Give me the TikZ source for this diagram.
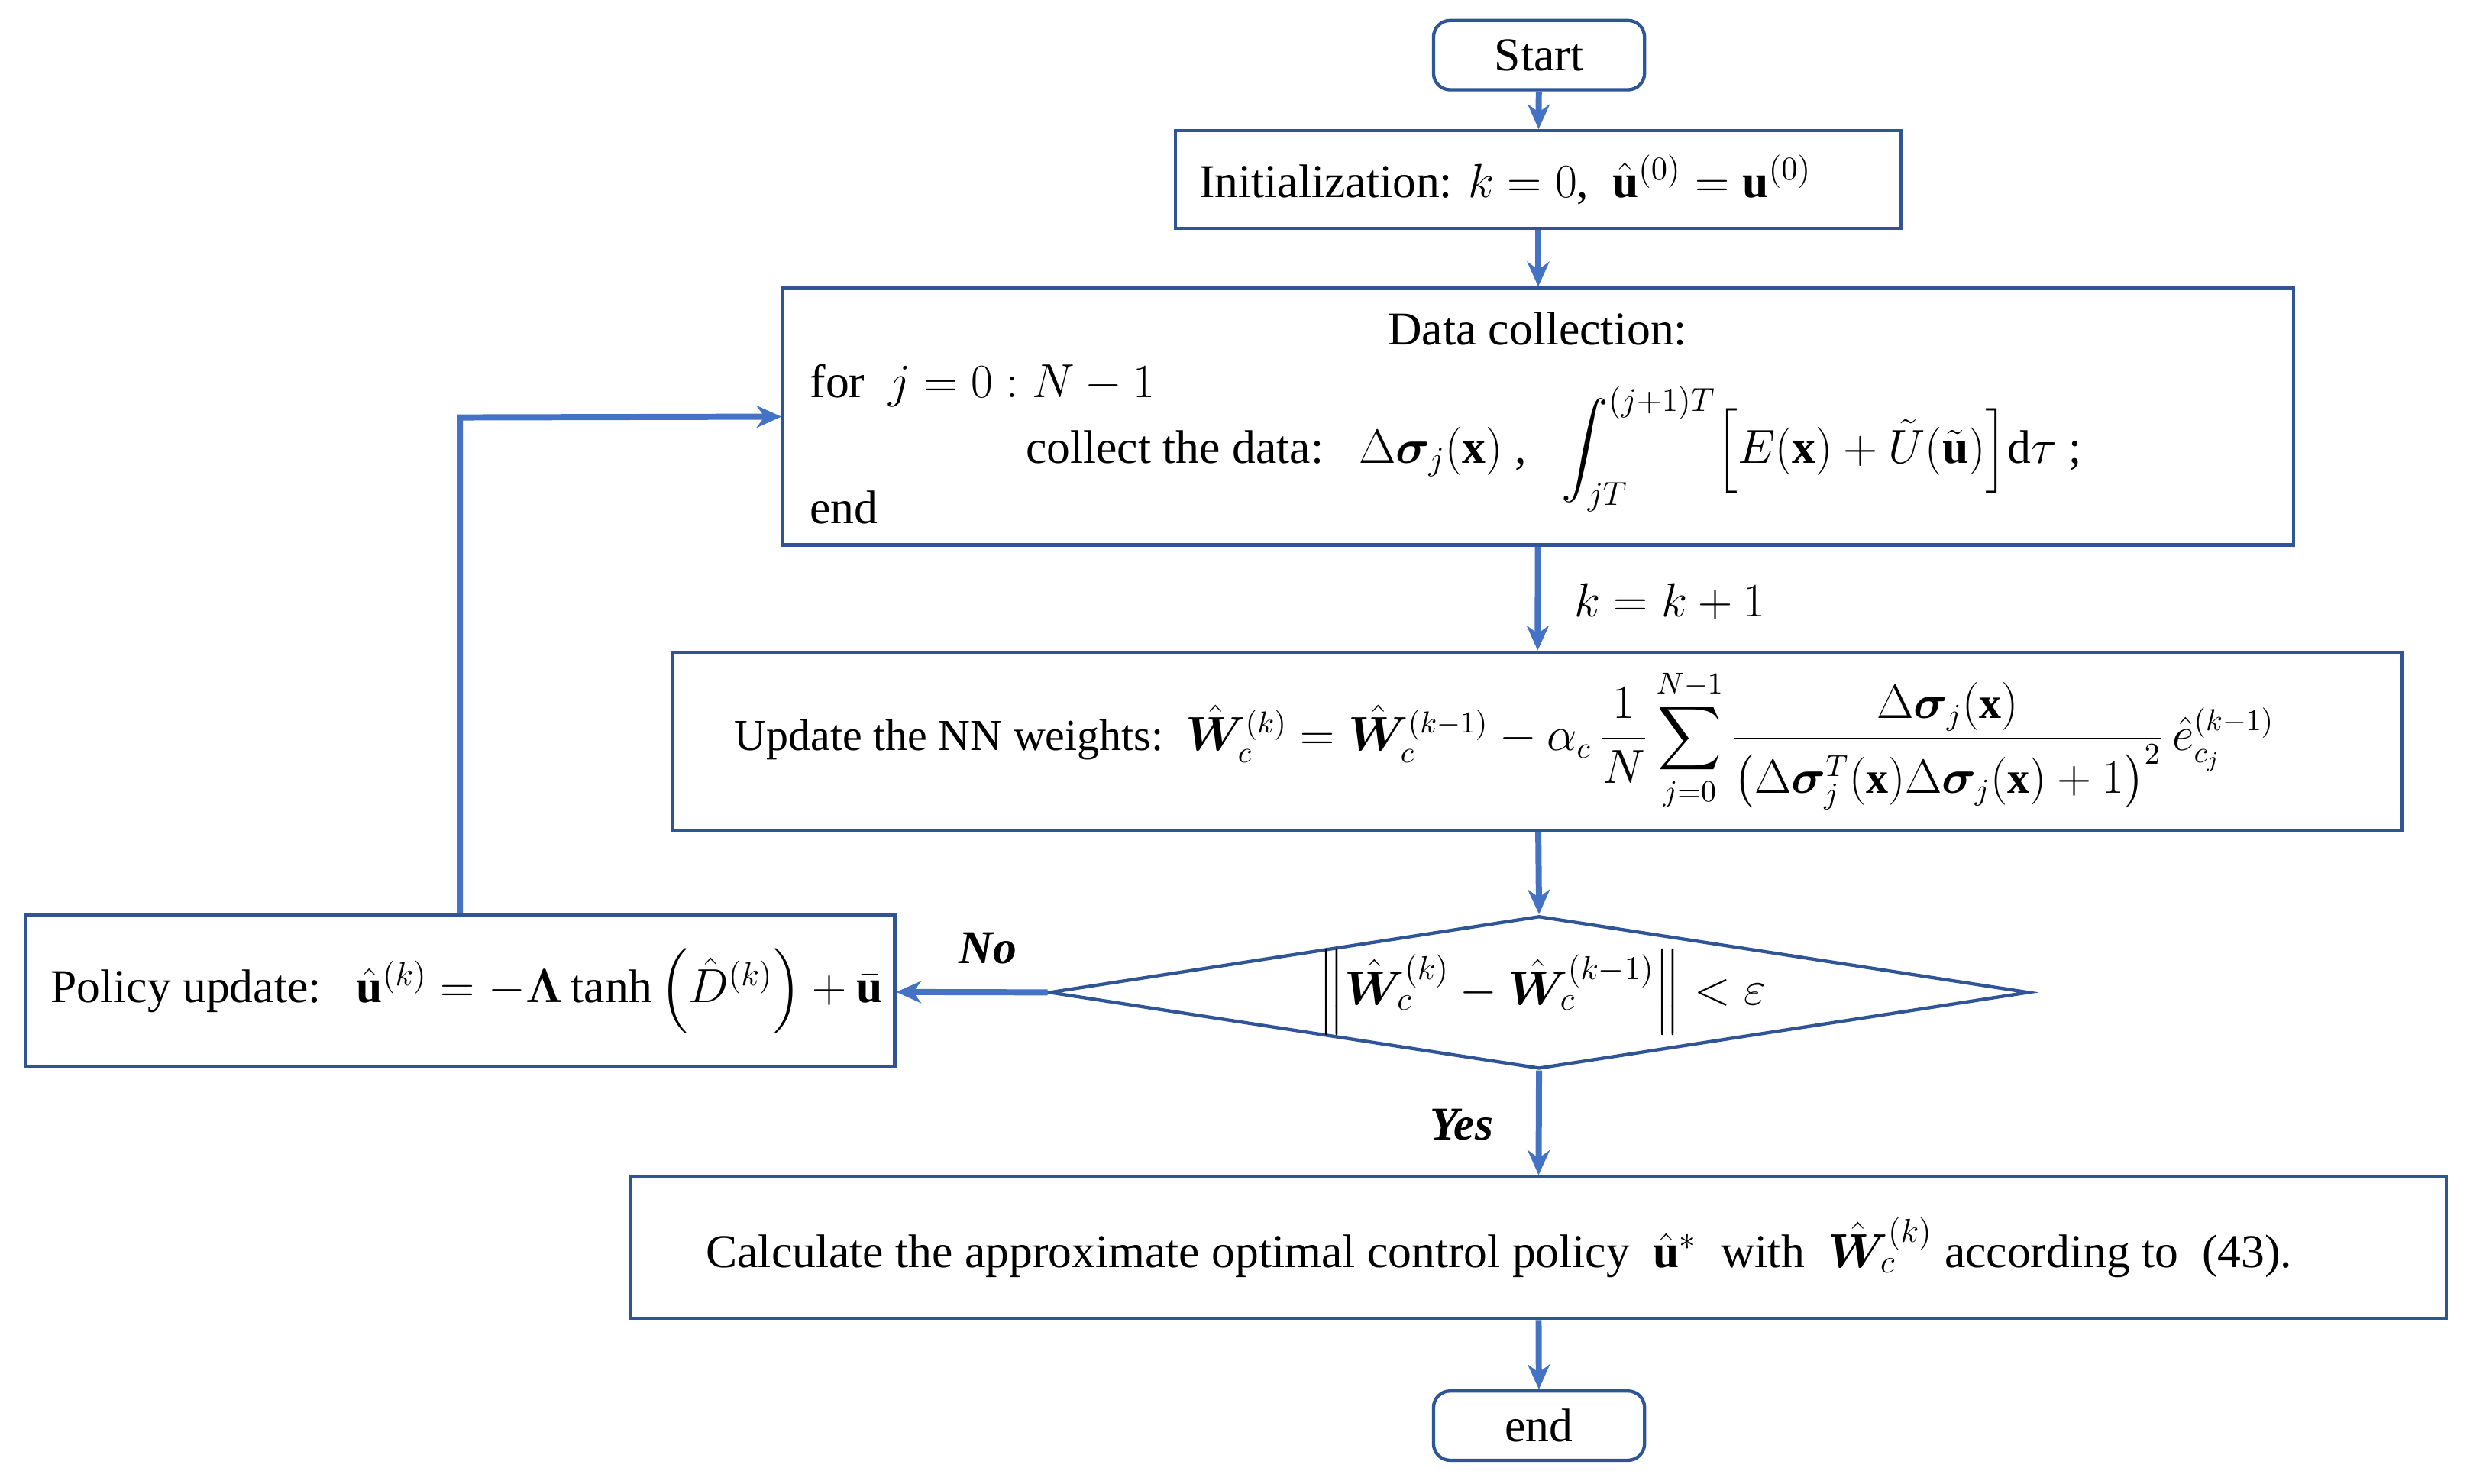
\documentclass[tikz,border=0pt]{standalone}
\usepackage{amsmath,amssymb,bm}
\usepackage{fontspec}
\setmainfont{Liberation Serif}
\usetikzlibrary{shapes.geometric,arrows.meta}
\definecolor{bx}{RGB}{47,85,151}
\definecolor{ar}{RGB}{68,114,196}
\begin{document}
\begin{tikzpicture}[x=0.02cm,y=-0.02cm,
  box/.style={draw=bx,line width=1.2pt,inner sep=0pt},
  arr/.style={draw=ar,line width=2.2pt,-{Stealth[length=9pt,width=8pt]}},
  every node/.style={font=\fontsize{17}{20}\selectfont}]
\useasboundingbox (0,0) rectangle (1568,942);
\node[box,rounded corners=6pt,minimum width=2.68cm,minimum height=0.88cm] (start) at (977,35) {Start};
\node[box,minimum width=9.22cm,minimum height=1.24cm] (init) at (976.5,114) {};
\node[anchor=west] at (755,114) {Initialization: $k=0$,\ \ $\hat{\mathbf u}^{(0)}=\mathbf u^{(0)}$};
\node[box,minimum width=19.18cm,minimum height=3.26cm] (data) at (976.5,264.5) {};
\node at (976,209) {Data collection:};
\node[anchor=west] at (508,245) {for\ \ $j=0:N-1$};
\node[anchor=west] at (645,285) {collect the data:\ \ \ $\Delta\bm\sigma_j(\mathbf x)$\ ,\ \ \ $\displaystyle\int_{jT}^{(j+1)T}\!\Big[E(\mathbf x)+\tilde U(\tilde{\mathbf u})\Big]\mathrm d\tau$\ ;};
\node[anchor=west] at (508,322) {end};
\node[box,minimum width=21.96cm,minimum height=2.26cm] (upd) at (976,470.5) {};
\node[anchor=west,font=\fontsize{16}{19}\selectfont] at (460,470) {Update the NN weights:\ \ $\hat{\bm W}_c^{(k)}=\hat{\bm W}_c^{(k-1)}-\alpha_c\,\dfrac1N\displaystyle\sum_{j=0}^{N-1}\frac{\Delta\bm\sigma_j(\mathbf x)}{\big(\Delta\bm\sigma_j^T(\mathbf x)\Delta\bm\sigma_j(\mathbf x)+1\big)^2}\,\hat e_{c_j}^{(k-1)}$};
\node[box,diamond,aspect=6.4,minimum width=12.44cm,minimum height=1.94cm] (dec) at (977,630) {};
\node at (979,630) {$\Big\|\hat{\bm W}_c^{(k)}-\hat{\bm W}_c^{(k-1)}\Big\|<\varepsilon$};
\node[box,minimum width=11.04cm,minimum height=1.92cm] (pol) at (292,629) {};
\node[anchor=west] at (26,629) {Policy update:\ \ \ $\hat{\mathbf u}^{(k)}=-\bm\Lambda\tanh\Big(\hat D^{(k)}\Big)+\bar{\mathbf u}$};
\node[box,minimum width=23.06cm,minimum height=1.8cm] (calc) at (976.5,792) {};
\node[anchor=west] at (442,792) {Calculate the approximate optimal control policy\ \ $\hat{\mathbf u}^*$\ \ with\ \ $\hat{\bm W}_c^{(k)}$\ according to\ \ (43).};
\node[box,rounded corners=6pt,minimum width=2.68cm,minimum height=0.88cm] (end) at (977,905) {end};
\node (kk) at (1060,382) {\fontsize{19}{22}\selectfont$k=k+1$};
\node (no) at (627,602) {\textbf{\textit{No}}};
\node (yes) at (928,714) {\textbf{\textit{Yes}}};
\coordinate (c1) at (292,265);
\draw[arr] (start) -- (init);
\draw[arr] (init) -- (data);
\draw[arr] (data) -- (upd);
\draw[arr] (upd) -- (dec.north);
\draw[arr] (dec.west) -- (pol);
\draw[arr] (dec.south) -- (calc);
\draw[arr] (calc) -- (end);
\draw[arr] (pol.north) -- (c1) -- (data.west);
\end{tikzpicture}
\end{document}
